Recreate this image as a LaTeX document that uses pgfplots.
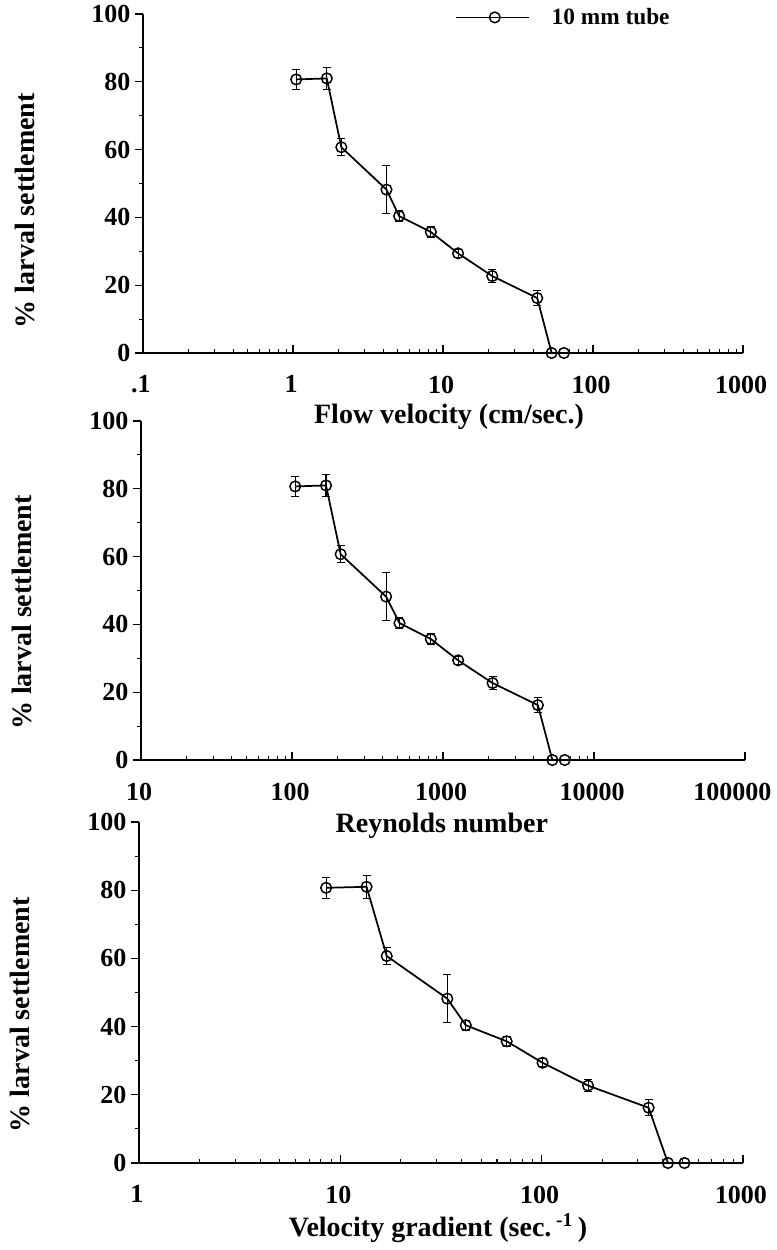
\documentclass[border=0pt]{standalone}
\usepackage{fontspec}
\setmainfont{Liberation Serif}
\usepackage{pgfplots}
\pgfplotsset{compat=1.18}
\usepackage{pgfplotstable}

% flow velocity (cm/sec.)
\pgfplotstableread{
x y e
1.05 80.7 3.0
1.68 81.0 3.3
2.10 60.7 2.5
4.20 48.2 7.0
5.10 40.4 1.5
8.30 35.7 1.5
12.6 29.4 1.2
21.3 22.7 1.8
42.5 16.2 2.3
53.0 0 0
64.0 0 0
}\velo
% Reynolds number
\pgfplotstableread{
x y e
105 80.7 3.0
168 81.0 3.3
210 60.7 2.5
420 48.2 7.0
515 40.4 1.5
830 35.7 1.5
1260 29.4 1.2
2130 22.7 1.8
4250 16.2 2.3
5300 0 0
6400 0 0
}\reyn
% velocity gradient (sec.^-1)
\pgfplotstableread{
x y e
8.5 80.7 3.0
13.5 81.0 3.3
17.0 60.7 2.5
34.0 48.2 7.0
42.0 40.4 1.5
67.0 35.7 1.5
101 29.4 1.2
170 22.7 1.8
340 16.2 2.3
424 0 0
512 0 0
}\grad

\pgfplotsset{
  panel/.style={
    scale only axis,
    ymin=0, ymax=100,
    enlargelimits=false,
    ytick={0,20,...,100},
    minor ytick={10,30,...,90},
    axis x line=bottom, axis y line=left,
    axis line style={-, line width=1.0pt},
    tick style={black, line width=0.8pt},
    tick align=outside,
    major tick length=6pt, minor tick length=3pt,
    major x tick style={yshift=6pt},
    minor x tick style={yshift=3pt},
    clip=false,
    tick label style={font=\bfseries\fontsize{19.5}{22}\selectfont},
    xticklabel shift=7.5pt,
    xticklabel style={xshift=-1.5pt},
    /pgf/number format/assume math mode=true,
    ylabel={\% larval settlement},
    ylabel style={at={(axis description cs:-0.197,0.435)}, anchor=center, font=\bfseries\fontsize{21}{24}\selectfont},
    xlabel style={font=\bfseries\fontsize{21}{24}\selectfont},
  },
  dataline/.style={black, line width=1.3pt, mark=o, mark size=4pt,
    mark options={fill=white, line width=1.1pt, solid},
    error bars/y dir=both, error bars/y explicit,
    error bars/error bar style={line width=0.8pt, black},
    error bars/error mark options={rotate=90, mark size=3pt, line width=0.8pt, black}},
}

\begin{document}
\begin{tikzpicture}
\useasboundingbox (0pt,0pt) rectangle (582pt,-937.5pt);

\begin{axis}[panel, xmode=log,
  at={(107.25pt,-264.75pt)}, anchor=south west,
  width=450pt, height=254.25pt,
  xmin=0.1, xmax=1000,
  xtick={0.1,1,10,100,1000}, xticklabels={.1,1,10,100,1000},
  xlabel={Flow velocity (cm/sec.)},
  xlabel style={at={(axis description cs:0.51,-0.189)}, anchor=center},
  ylabel style={at={(axis description cs:-0.197,0.42)}},
  legend style={at={(0.52,0.99)}, anchor=west, draw=none, fill=none,
    inner sep=0pt, font=\bfseries\fontsize{17.5}{20}\selectfont,
    /tikz/every odd column/.append style={column sep=14pt}},
  legend image code/.code={\draw[#1, mark repeat=2, mark phase=2] plot coordinates {(0pt,0pt) (29pt,0pt) (55pt,0pt)};},
]
\addplot[dataline] table[x=x, y=y, y error=e] {\velo};
\addlegendentry{10 mm tube}
\end{axis}

\begin{axis}[panel, xmode=log,
  at={(105.75pt,-570pt)}, anchor=south west,
  width=453pt, height=254.25pt,
  xmin=10, xmax=100000,
  xtick={10,100,1000,10000}, xticklabels={10,100,1000,10000},
  extra x ticks={100000}, extra x tick labels={100000},
  extra x tick style={xticklabel style={xshift=-8pt}},
  xlabel={Reynolds number},
  xlabel style={at={(axis description cs:0.498,-0.195)}, anchor=center},
]
\addplot[dataline] table[x=x, y=y, y error=e] {\reyn};
\end{axis}

\begin{axis}[panel, xmode=log,
  at={(104.25pt,-872.25pt)}, anchor=south west,
  width=453pt, height=255.75pt,
  xmin=1, xmax=1000,
  xtick={1,10,100,1000}, xticklabels={1,10,100,1000},
  xlabel={Velocity gradient (sec.\,\textsuperscript{-1}\,)},
  xlabel style={at={(axis description cs:0.495,-0.19)}, anchor=center},
]
\addplot[dataline] table[x=x, y=y, y error=e] {\grad};
\end{axis}
\end{tikzpicture}
\end{document}
